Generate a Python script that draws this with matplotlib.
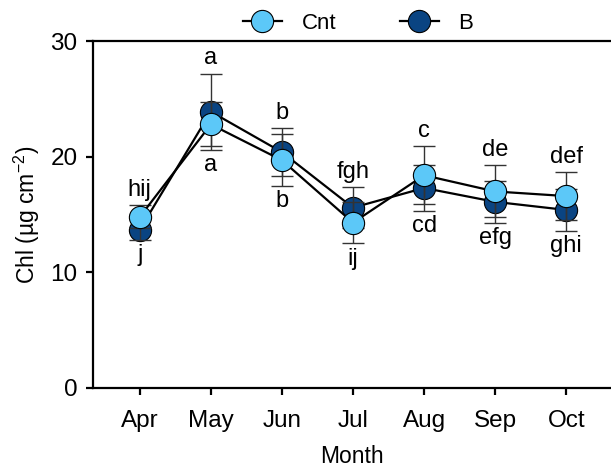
import matplotlib
matplotlib.use("Agg")
import matplotlib.pyplot as plt

plt.rcParams["font.family"] = ["Liberation Sans", "DejaVu Sans"]
plt.rcParams["mathtext.fontset"] = "custom"
plt.rcParams["mathtext.rm"] = "Liberation Sans"

months = ["Apr", "May", "Jun", "Jul", "Aug", "Sep", "Oct"]
cnt = [14.8, 22.8, 19.7, 14.3, 18.4, 17.0, 16.6]
cnt_err = [1.0, 1.9, 2.25, 1.8, 2.5, 2.25, 2.1]
b = [13.7, 23.9, 20.4, 15.6, 17.3, 16.1, 15.4]
b_err = [0.9, 3.3, 2.1, 1.8, 2.0, 1.8, 1.8]
cnt_letters = ["hij", "a", "b", "ij", "c", "de", "def"]
b_letters = ["j", "a", "b", "fgh", "cd", "efg", "ghi"]

C_CNT = "#5CC8F8"
C_B = "#0A4482"

fig = plt.figure(figsize=(6.11, 4.68), dpi=100)
ax = fig.add_axes([0.152, 0.171, 0.848, 0.741])
x = list(range(len(months)))

ax.plot(x, b, "-o", color="black", lw=1.6, marker="o", ms=16,
        mfc=C_B, mec="black", mew=0.8, zorder=2, label="B")
ax.errorbar(x, b, yerr=b_err, fmt="none", ecolor="#333333", elinewidth=1,
            capsize=8, capthick=1, zorder=3)
ax.errorbar(x, cnt, yerr=cnt_err, fmt="none", ecolor="#333333", elinewidth=1,
            capsize=8, capthick=1, zorder=3)
ax.plot(x, cnt, "-o", color="black", lw=1.6, marker="o", ms=16,
        mfc=C_CNT, mec="black", mew=0.8, zorder=4, label="Cnt")

# significance letters: higher series above, lower series below
for i in x:
    top = max(cnt[i] + cnt_err[i], b[i] + b_err[i])
    bot = min(cnt[i] - cnt_err[i], b[i] - b_err[i])
    if cnt[i] >= b[i]:
        up, lo = cnt_letters[i], b_letters[i]
    else:
        up, lo = b_letters[i], cnt_letters[i]
    ax.annotate(up, (i, top), xytext=(0, 3), textcoords="offset points",
                ha="center", va="bottom", fontsize=17)
    ax.annotate(lo, (i, bot), xytext=(0, -3), textcoords="offset points",
                ha="center", va="top", fontsize=17)

ax.set_xlim(-0.66, 6.63)
ax.set_ylim(0, 30)
ax.set_yticks([0, 10, 20, 30])
ax.set_xticks(x)
ax.set_xticklabels(months)
ax.tick_params(axis="both", direction="out", length=5, width=1.6,
               labelsize=17.5)
ax.tick_params(axis="x", pad=11)
ax.tick_params(axis="y", pad=6)
ax.spines["right"].set_visible(False)
for s in ("left", "bottom", "top"):
    ax.spines[s].set_linewidth(1.6)
ax.set_xlabel("Month", fontsize=16.5, labelpad=9)
ax.set_ylabel("Chl (µg cm$^{\\mathregular{-2}}$)", fontsize=16.5, labelpad=6)

h, l = ax.get_legend_handles_labels()
ax.legend(h[::-1], l[::-1], loc="lower center", bbox_to_anchor=(0.512, 0.995),
          ncol=2, frameon=False, fontsize=16, handlelength=1.75,
          columnspacing=2.85, handletextpad=0.9, borderaxespad=0)

fig.savefig("out.png", dpi=100)
